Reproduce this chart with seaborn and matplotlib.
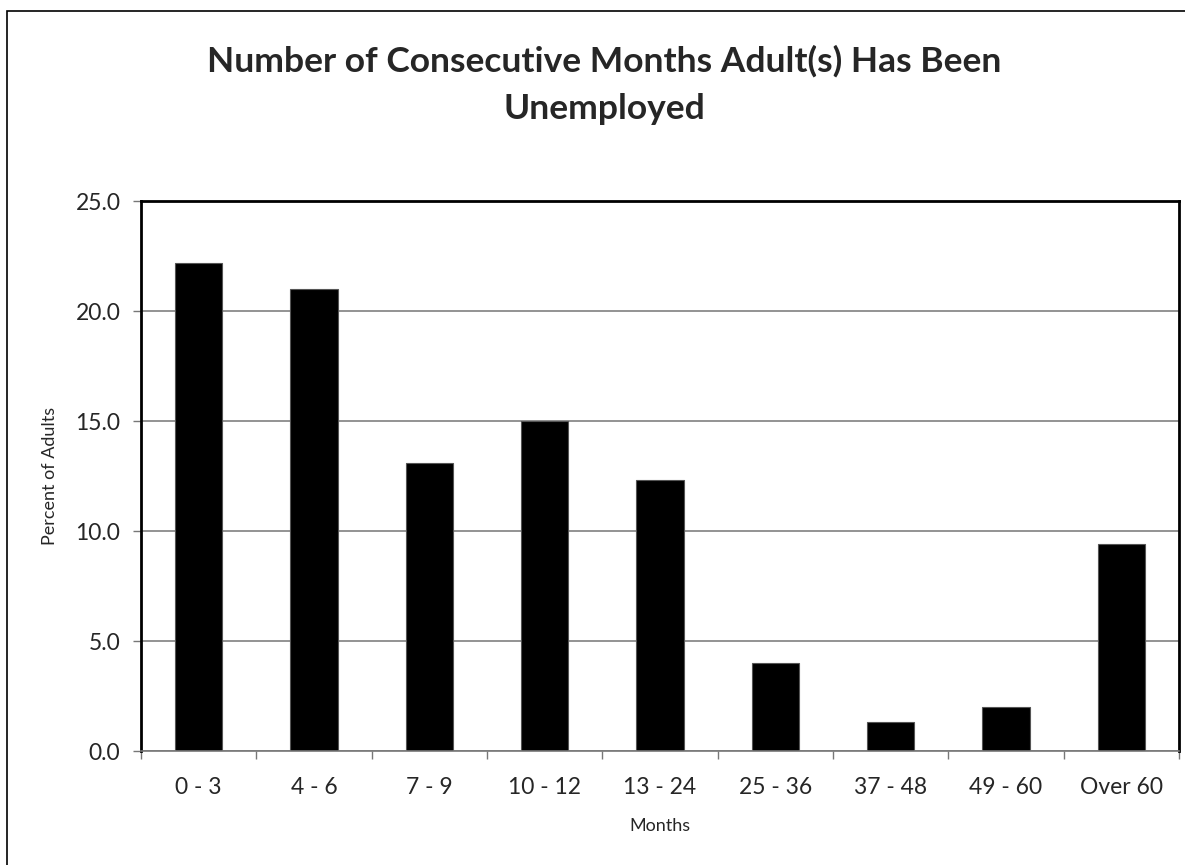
import numpy as np
import pandas as pd
import matplotlib.pyplot as plt
import seaborn as sns
from matplotlib.patches import Rectangle

# valores
months = ['0 - 3', '4 - 6', '7 - 9', '10 - 12', '13 - 24', '25 - 36', '37 - 48', '49 - 60', 'Over 60']
percent_adults = [22.2, 21.0, 13.1, 15.0, 12.3, 4.0, 1.3, 2.0, 9.4]
y_ticks = [0.0, 5.0, 10.0, 15.0, 20.0, 25.0]

df = pd.DataFrame({'Months': months, 'Percent': percent_adults})

sns.set_style('white')
plt.rcParams['font.family'] = ['Lato', 'DejaVu Sans']

fig = plt.figure(figsize=(11.85, 8.65), dpi=100)
# eixo: x 141..1179 px, y 201..751 px
ax = fig.add_axes([141 / 1185, 114 / 865, 1038 / 1185, 550 / 865])

sns.barplot(data=df, x='Months', y='Percent', color='black', width=0.41,
            edgecolor='#555555', linewidth=0.8, saturation=1, ax=ax)

ax.set_ylim(0, 25)
ax.set_xlim(-0.5, len(months) - 0.5)
ax.set_yticks(y_ticks)
ax.set_yticklabels([f'{v:.1f}' for v in y_ticks], fontsize=16.5)
ax.tick_params(axis='y', which='major', direction='out', length=5.8, width=1, color='#777777', pad=9, left=True)
ax.tick_params(axis='x', which='major', length=0, pad=19, labelsize=16.5)

# marcas do eixo x entre categorias
ax.set_xticks(np.arange(-0.5, len(months), 1), minor=True)
ax.tick_params(axis='x', which='minor', direction='out', length=5.8, width=1, color='#777777', bottom=True)

ax.yaxis.grid(True, color='#808080', linewidth=1.2)
ax.set_axisbelow(True)
for side in ['top', 'right', 'left']:
    ax.spines[side].set_color('black')
    ax.spines[side].set_linewidth(2)
ax.spines['bottom'].set_color('#777777')
ax.spines['bottom'].set_linewidth(1.2)

ax.set_xlabel('Months', fontsize=13, labelpad=14)
ax.set_ylabel('Percent of Adults', fontsize=13)
ax.yaxis.set_label_coords(-0.080, 0.5)

# titulo em duas linhas, centrado em x ~ 604 px
fig.text(604 / 1185, 1 - 72 / 865, 'Number of Consecutive Months Adult(s) Has Been',
         ha='center', va='baseline', fontsize=25.5, fontweight='bold')
fig.text(604 / 1185, 1 - 119 / 865, 'Unemployed',
         ha='center', va='baseline', fontsize=25.5, fontweight='bold')

# moldura externa
fig.patches.append(Rectangle((7 / 1185, -0.1), 1.2, 1.1 - 11 / 865, transform=fig.transFigure,
                             fill=False, edgecolor='black', linewidth=1.2))

fig.savefig('out.png', dpi=100)
